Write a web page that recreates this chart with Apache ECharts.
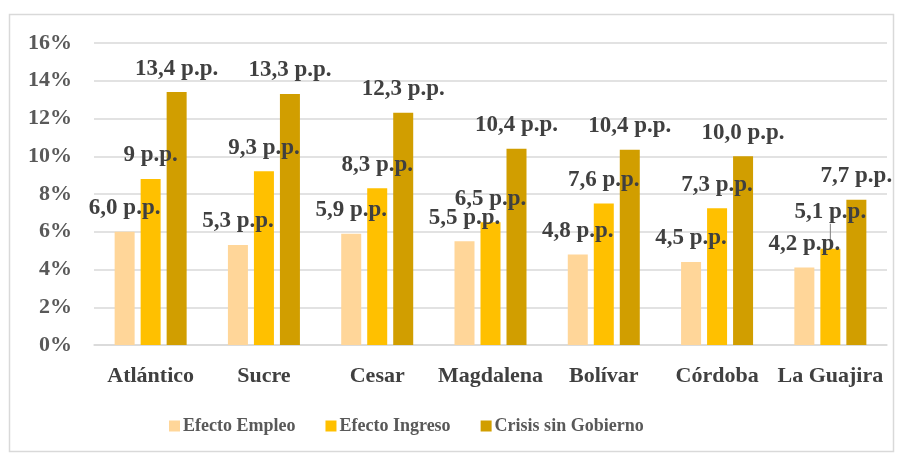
<!DOCTYPE html>
<html><head><meta charset="utf-8">
<script src="https://cdn.jsdelivr.net/npm/echarts@6/dist/echarts.min.js"></script>
<style>html,body{margin:0;padding:0;background:#fff}#c{width:904px;height:460px}</style>
</head><body><div id="c"></div>
<script>
const categories = ['Atlántico','Sucre','Cesar','Magdalena','Bolívar','Córdoba','La Guajira'];
const empleo = [6.0, 5.3, 5.9, 5.5, 4.8, 4.4, 4.1];
const ingreso = [8.8, 9.2, 8.3, 6.5, 7.5, 7.25, 5.1];
const crisis = [13.4, 13.3, 12.3, 10.4, 10.35, 10.0, 7.7];
const empleoLabels = ['6,0 p.p.','5,3 p.p.','5,9 p.p.','5,5 p.p.','4,8 p.p.','4,5 p.p.','4,2 p.p.'];
const ingresoLabels = ['9 p.p.','9,3 p.p.','8,3 p.p.','6,5 p.p.','7,6 p.p.','7,3 p.p.','5,1 p.p.'];
const crisisLabels = ['13,4 p.p.','13,3 p.p.','12,3 p.p.','10,4 p.p.','10,4 p.p.','10,0 p.p.','7,7 p.p.'];
const yTicks = [0,2,4,6,8,10,12,14,16];

const FONT = '"Liberation Serif", serif';
const chart = echarts.init(document.getElementById('c'));
function mkSeries(name, data, labels, color, raised) {
  return {
    name, type: 'bar', barWidth: 20, barGap: '30%',
    data: data.map((v, i) => i === raised
      ? {value: v, labelLine: {show: true, lineStyle: {color: '#808080', width: 1}}}
      : {value: v, labelLine: {show: false}}),
    itemStyle: {color},
    label: {show: true, position: 'top', distance: 12,
      formatter: p => labels[p.dataIndex],
      fontFamily: FONT, fontWeight: 'bold', fontSize: 23, color: '#404040'},
    labelLine: {show: false},
    labelLayout: raised !== undefined ? (p => p.dataIndex === raised ? {dy: -13} : {}) : undefined
  };
}
chart.setOption({
  animation: false,
  graphic: [{type: 'rect', shape: {x: 9.5, y: 14.5, width: 884, height: 437},
    style: {fill: 'none', stroke: '#d9d9d9', lineWidth: 1.5}, z: -1}],
  grid: {left: 94, right: 17, top: 43, bottom: 115},
  legend: {bottom: 20, left: 164, itemWidth: 11, itemHeight: 11, itemGap: 30,
    icon: 'rect',
    textStyle: {fontFamily: FONT, fontWeight: 'bold', fontSize: 18, color: '#595959', padding: [0,0,0,-2]},
    data: ['Efecto Empleo','Efecto Ingreso','Crisis sin Gobierno']},
  xAxis: {type: 'category', data: categories,
    axisLine: {show: true, lineStyle: {color: '#d9d9d9', width: 1.5}},
    axisTick: {show: false},
    axisLabel: {interval: 0, fontFamily: FONT, fontWeight: 'bold', fontSize: 22, color: '#404040', margin: 20}},
  yAxis: {type: 'value', min: 0, max: 16, interval: 2,
    axisLabel: {formatter: v => yTicks.includes(v) ? v + '%' : '', fontFamily: FONT, fontWeight: 'bold', fontSize: 22, color: '#595959', margin: 22},
    splitLine: {lineStyle: {color: '#d9d9d9', width: 1.5}},
    axisLine: {show: false}, axisTick: {show: false}},
  series: [
    mkSeries('Efecto Empleo', empleo, empleoLabels, '#FFD699'),
    mkSeries('Efecto Ingreso', ingreso, ingresoLabels, '#FFC000', 6),
    mkSeries('Crisis sin Gobierno', crisis, crisisLabels, '#D19E00')
  ]
});
</script></body></html>
